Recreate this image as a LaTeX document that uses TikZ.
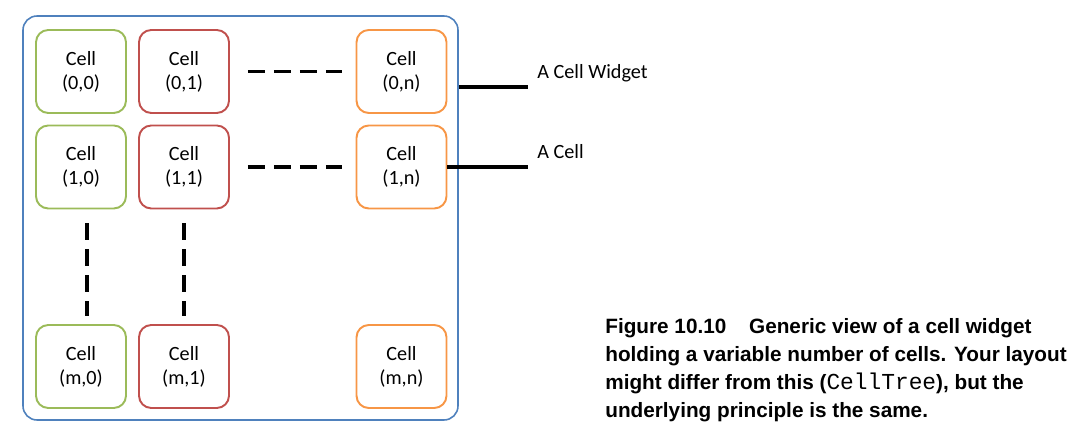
\documentclass[tikz,border=0pt]{standalone}
\usepackage{fontspec}
\setmainfont{Carlito}
\newfontfamily\captionfont{Liberation Sans}
\newfontfamily\captionmono{Liberation Mono}
\usepackage{tikz}

\definecolor{cellgreen}{HTML}{9BBB59}
\definecolor{cellred}{HTML}{C0504D}
\definecolor{cellorange}{HTML}{F79646}
\definecolor{widgetblue}{HTML}{4F81BD}

\begin{document}
\begin{tikzpicture}[
    cell/.style={draw, rounded corners=7pt, line width=1.1pt, minimum width=1.8cm,
        minimum height=1.66cm, align=center, font=\fontsize{11.5}{13.6}\selectfont},
    dots/.style={line width=2.2pt, dash pattern=on 0.34cm off 0.18cm},
    pointer/.style={line width=2.3pt},
    label/.style={anchor=west, inner sep=0pt, font=\fontsize{11.5}{13.6}\selectfont}
]
    \useasboundingbox (0, 0) rectangle (21.74, 8.92);

    % Outer box of the widget
    \node[draw=widgetblue, line width=0.9pt, rounded corners=8pt,
        minimum width=8.7cm, minimum height=8.08cm] (widget) at (4.81, 4.56) {};

    % Cells, one column per colour
    \foreach \row/\y in {0/7.49, 1/5.58, m/1.59} {
        \foreach \col/\x/\clr in {0/1.62/cellgreen, 1/3.68/cellred, n/8.03/cellorange} {
            \node[cell, draw=\clr] (c\row\col) at (\x, \y) {Cell\\(\row,\col)};
        }
    }

    % Dashes for the missing columns
    \draw[dots, shorten <=0.36cm, shorten >=0.28cm] (c01.east) -- (c0n.west);
    \draw[dots, shorten <=0.36cm, shorten >=0.28cm] (c11.east) -- (c1n.west);

    % Dashes for the missing rows
    \draw[dots, shorten <=0.28cm, shorten >=0.16cm] ([xshift=0.12cm]c10.south) -- ([xshift=0.12cm]cm0.north);
    \draw[dots, shorten <=0.28cm, shorten >=0.16cm] (c11.south) -- (cm1.north);

    % Pointers with their labels
    \coordinate (widgetend) at (10.56, 7.18);
    \draw[pointer] (widgetend -| widget.east) -- (widgetend);
    \node[label] (widgetlabel) at (10.74, 7.46) {A Cell Widget};

    \coordinate (cellend) at (10.56, 5.56);
    \draw[pointer] (c1n.east) -- (c1n.east -| cellend);
    \node[label] (celllabel) at (10.74, 5.88) {A Cell};

    % Caption
    \node[anchor=north west, inner sep=0pt, align=left,
        font=\captionfont\bfseries\fontsize{11.8}{15.9}\selectfont] (caption) at (12.1, 2.55)
        {Figure 10.10\hspace{1.1em}Generic view of a cell widget\\
         holding a variable number of cells. Your layout\\
         might differ from this ({\captionmono\mdseries\fontsize{13}{15.9}\selectfont CellTree}), but the\\
         underlying principle is the same.};

\end{tikzpicture}
\end{document}
